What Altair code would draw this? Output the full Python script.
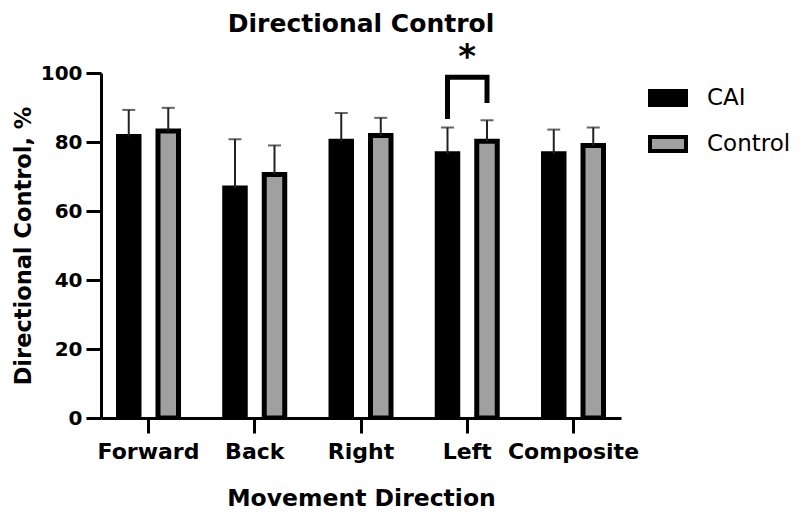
import altair as alt
import pandas as pd

directions = ["Forward", "Back", "Right", "Left", "Composite"]
groups = ["CAI", "Control"]
cai_mean = [81.6, 66.7, 80.2, 76.6, 76.6]
cai_upper = [89.3, 80.8, 88.4, 84.2, 83.6]
control_mean = [83.2, 70.6, 81.9, 80.2, 79.0]
control_upper = [89.9, 79.0, 87.0, 86.3, 84.2]

bracket_direction = ["Left", "Left", "Left", "Left"]
bracket_group = ["CAI", "CAI", "Control", "Control"]
bracket_value = [86.7, 98.8, 98.8, 91.3]

star_direction = ["Left"]
star_value = [106.0]

FONT = "DejaVu Sans"

rows = []
for i, d in enumerate(directions):
    rows.append({"Direction": d, "Group": "CAI", "Value": cai_mean[i], "Upper": cai_upper[i]})
    rows.append({"Direction": d, "Group": "Control", "Value": control_mean[i], "Upper": control_upper[i]})
df = pd.DataFrame(rows)

bracket_df = pd.DataFrame({
    "Direction": bracket_direction,
    "Group": bracket_group,
    "Value": bracket_value,
    "Order": list(range(len(bracket_value))),
})
star_df = pd.DataFrame({"Direction": star_direction, "Value": star_value})

X = alt.X(
    "Direction:N",
    sort=directions,
    title="Movement Direction",
    scale=alt.Scale(paddingInner=0.2, paddingOuter=0.047),
    axis=alt.Axis(labelAngle=0),
)
XO = alt.XOffset(
    "Group:N",
    sort=groups,
    scale=alt.Scale(paddingInner=0.481, paddingOuter=0.3165),
)
YT = "Directional Control, %"
yscale = alt.Scale(domain=[0, 100], nice=False, zero=True)

bars = alt.Chart(df).mark_bar(stroke="black", strokeWidth=5, clip=True).encode(
    x=X,
    xOffset=XO,
    y=alt.Y("Value:Q", scale=yscale, title=YT,
            axis=alt.Axis(values=[0, 20, 40, 60, 80, 100])),
    color=alt.Color(
        "Group:N",
        sort=groups,
        scale=alt.Scale(domain=groups, range=["#000000", "#a0a0a0"]),
        legend=alt.Legend(title=None),
    ),
)

err = alt.Chart(df).mark_rule(color="#222222", strokeWidth=2).encode(
    x=X, xOffset=XO,
    y=alt.Y("Value:Q", scale=yscale, title=YT),
    y2="Upper:Q",
)

caps = alt.Chart(df).mark_tick(color="#222222", thickness=2, size=13, orient="horizontal").encode(
    x=X, xOffset=XO,
    y=alt.Y("Upper:Q", scale=yscale, title=YT),
)

bracket = alt.Chart(bracket_df).mark_line(
    color="black", strokeWidth=5, strokeJoin="miter", strokeCap="butt"
).encode(
    x=X, xOffset=XO,
    y=alt.Y("Value:Q", scale=yscale, title=YT),
    order="Order:Q",
)

star = alt.Chart(star_df).mark_text(
    text="*", font=FONT, fontSize=34, fontWeight="bold", baseline="middle", dy=6
).encode(
    x=X,
    y=alt.Y("Value:Q", scale=yscale, title=YT),
)

chart = (
    alt.layer(bars, err, caps, bracket, star)
    .properties(
        width=520,
        height=345,
        autosize="none",
        padding={"left": 93, "top": 65, "right": 171, "bottom": 93},
        title=alt.TitleParams(
            "Directional Control", font=FONT, fontSize=25, fontWeight="bold",
            color="black", anchor="middle", offset=4,
        ),
    )
    .configure_view(stroke=None)
    .configure_axis(
        grid=False,
        domainColor="black",
        domainWidth=3,
        tickColor="black",
        tickWidth=3,
        tickSize=15,
        labelFont=FONT,
        labelFontWeight="bold",
        labelColor="black",
        titleFont=FONT,
        titleFontWeight="bold",
        titleColor="black",
    )
    .configure_axisX(labelFontSize=22, labelPadding=8, titlePadding=24, titleFontSize=23.5)
    .configure_axisY(labelFontSize=20, labelPadding=4, titlePadding=5, titleFontSize=22.5)
    .configure_legend(
        orient="none",
        legendX=547,
        legendY=5,
        padding=0,
        symbolType="M-1,-0.39H1V0.39H-1Z",
        symbolSize=1296,
        symbolStrokeColor="black",
        symbolStrokeWidth=4,
        labelFont=FONT,
        labelFontSize=23,
        labelColor="black",
        labelOffset=19,
        labelLimit=200,
        rowPadding=10,
    )
)

chart.save("out.html", embed_options={"renderer": "svg", "actions": False})
